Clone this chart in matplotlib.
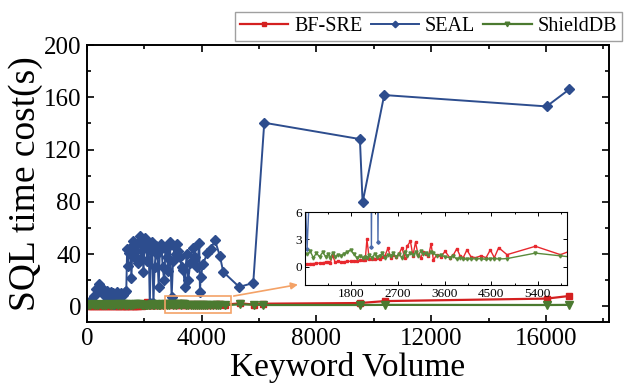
import matplotlib
matplotlib.use("Agg")
import matplotlib.pyplot as plt
from matplotlib.patches import Rectangle
from matplotlib.ticker import MultipleLocator

plt.rcParams['font.family'] = ['Liberation Serif', 'DejaVu Serif']

# keyword volume / query time for BF-SRE and ShieldDB
volume = [40, 110, 180, 250, 320, 390, 460, 530, 600, 670, 740, 810, 880, 950,
          1010, 1070, 1130, 1190, 1250, 1310, 1362, 1400, 1440, 1490, 1540, 1600,
          1660, 1720, 1790, 1850, 1910, 1970, 2030, 2071, 2103, 2150, 2200, 2250,
          2300, 2350, 2400, 2450, 2509, 2560, 2610, 2660, 2720, 2780, 2830, 2877,
          2942, 2990, 3040, 3090, 3140, 3190, 3240, 3290, 3340, 3385, 3450, 3530,
          3611, 3700, 3770, 3837, 3900, 3960, 4031, 4110, 4200, 4300, 4400, 4482,
          4560, 4643, 4804, 5351, 5834, 6150, 9517, 10390, 16025, 16812]
bf_sre = [0.20, 0.20, 0.25, 0.20, 0.30, 0.25, 0.30, 0.30, 0.25, 0.30, 0.35, 0.30,
          0.30, 0.30, 0.35, 0.35, 0.40, 0.40, 0.45, 0.50, 0.55, 0.45, 1.30, 0.50,
          0.60, 0.50, 0.55, 0.60, 0.60, 0.65, 0.60, 0.70, 0.70, 0.75, 3.00, 0.80,
          0.90, 0.80, 1.00, 0.90, 1.10, 1.20, 2.05, 1.00, 1.30, 1.10, 1.40, 2.10,
          1.00, 2.25, 2.80, 1.20, 2.70, 1.30, 1.00, 1.60, 1.40, 1.20, 2.50, 0.75,
          1.30, 1.10, 1.70, 1.00, 1.30, 2.00, 1.20, 1.00, 1.85, 1.10, 1.00, 1.20,
          1.00, 1.85, 1.00, 2.10, 1.33, 2.25, 1.33, 2.00, 2.50, 4.00, 5.90, 7.90]
shielddb = [1.30, 1.20, 1.40, 1.10, 1.30, 1.20, 1.50, 1.20, 1.30, 1.10, 1.40, 1.20,
            1.30, 1.35, 1.70, 1.00, 1.50, 1.10, 1.60, 1.10, 1.45, 1.00, 1.50, 1.10,
            1.30, 1.20, 1.45, 1.60, 1.85, 1.40, 1.00, 1.20, 1.00, 1.10, 1.00, 1.30,
            1.00, 1.40, 1.10, 1.20, 1.50, 1.00, 1.30, 1.20, 1.50, 1.10, 1.40, 1.00,
            1.60, 1.20, 1.50, 1.30, 1.60, 1.20, 1.70, 1.40, 1.50, 1.30, 1.60, 1.55,
            1.20, 1.30, 1.10, 1.00, 1.20, 0.80, 1.00, 0.90, 0.80, 0.90, 0.85, 0.90,
            0.80, 0.90, 0.90, 0.85, 0.90, 1.50, 1.20, 1.00, 1.00, 1.10, 1.00, 1.10]

# keyword volume / query time for SEAL
seal_volume = [120, 230, 330, 420, 470, 540, 610, 690, 760, 830, 900, 950, 1000,
               1060, 1130, 1190, 1250, 1310, 1370, 1400, 1430, 1470, 1510, 1550,
               1590, 1630, 1680, 1720, 1770, 1810, 1850, 1890, 1930, 1970, 2010,
               2060, 2100, 2150, 2190, 2230, 2270, 2316, 2360, 2410, 2450, 2500,
               2540, 2590, 2640, 2690, 2740, 2790, 2840, 2890, 2952, 3000, 3050,
               3090, 3127, 3180, 3242, 3300, 3357, 3416, 3470, 3530, 3600, 3680,
               3760, 3840, 3915, 3939, 3963, 4054, 4194, 4312, 4462, 4636, 4751,
               5309, 5797, 6181, 9516, 9610, 10363, 16025, 16812]
seal = [4, 8, 13, 17, 12, 14, 9, 12, 7, 11, 10, 2.0, 9, 11, 8, 10, 9, 11, 12, 44,
        31, 41, 45, 22, 50, 38, 47, 42, 33, 49, 54, 37, 47, 26, 52, 45, 35, 47,
        2.2, 42, 49, 2.7, 30, 46, 40, 15, 43, 48, 30, 20, 44, 38, 27, 49, 7, 35,
        46, 40, 48, 42, 38, 30, 28, 15, 40, 20, 33, 45, 38, 30, 48.5, 11, 22.5,
        32.7, 40.8, 43.7, 50.6, 38.3, 26.3, 14.8, 17.9, 140.5, 128, 79.5, 161.7,
        153, 166]

red = '#d42020'
blue = '#2d4d8e'
green = '#4b7a30'
orange = '#f4a267'

fig = plt.figure(figsize=(6.24, 3.83), dpi=100)
ax = fig.add_axes([0.1394, 0.1593, 0.8365, 0.7232])

ax.plot(volume, bf_sre, color=red, marker='s', ms=4.5, lw=1.6, label='BF-SRE')
ax.plot(seal_volume, seal, color=blue, marker='D', ms=5.5, lw=1.4, label='SEAL')
ax.plot(volume, shielddb, color=green, marker='v', ms=5.5, lw=1.6, label='ShieldDB')

ax.set_xlim(0, 18200)
ax.set_ylim(-12, 200)
ax.xaxis.set_major_locator(MultipleLocator(4000))
ax.xaxis.set_minor_locator(MultipleLocator(2000))
ax.yaxis.set_major_locator(MultipleLocator(40))
ax.yaxis.set_minor_locator(MultipleLocator(20))
ax.tick_params(which='both', direction='in', top=True, right=True, width=1.2)
ax.tick_params(which='major', length=5, labelsize=18, pad=4)
ax.tick_params(which='minor', length=3)
for s in ax.spines.values():
    s.set_linewidth(1.4)

ax.set_xlabel('Keyword Volume', fontsize=24, labelpad=2)
ax.set_ylabel('SQL time cost(s)', fontsize=27, labelpad=1)

# zoom box and pointer to the inset
ax.add_patch(Rectangle((2719, -5.4), 2300, 13.1, fill=False, ec=orange, lw=1.2, zorder=5))
ax.annotate('', xy=(7450, 17), xytext=(5020, 7.5),
            arrowprops=dict(arrowstyle='-|>', color=orange, lw=1.2, mutation_scale=10))

fig.legend(loc='upper right', bbox_to_anchor=(0.997, 0.968), ncol=3, fontsize=14.5,
           frameon=True, fancybox=False, edgecolor='#888888', borderpad=0.25,
           handlelength=2.4, handletextpad=0.3, columnspacing=0.4, borderaxespad=0,
           markerscale=0.6)

# inset with the low-range detail
ins = fig.add_axes([0.489, 0.256, 0.42, 0.19])
ins.plot(volume, bf_sre, color='#e8282e', marker='s', ms=1.8, lw=1.0)
ins.plot(seal_volume, seal, color='#4a6aab', marker='D', ms=1.8, lw=1.0)
ins.plot(volume, shielddb, color='#5a8a3c', marker='v', ms=2.2, lw=1.0)
ins.set_xlim(912, 5965)
ins.set_ylim(-2, 6)
ins.set_xticks([1800, 2700, 3600, 4500, 5400])
ins.xaxis.set_minor_locator(MultipleLocator(450))
ins.set_yticks([0, 3, 6])
ins.tick_params(which='both', direction='in', top=True, right=True, width=0.7)
ins.tick_params(which='major', length=3, labelsize=9.5, pad=2)
ins.tick_params(which='minor', length=1.5)
for s in ins.spines.values():
    s.set_linewidth(0.8)

fig.savefig('out.png', dpi=100)
